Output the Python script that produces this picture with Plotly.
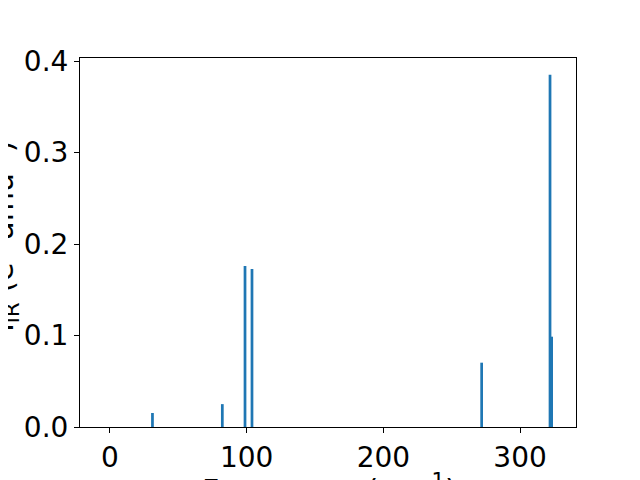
import plotly.graph_objects as go

freqs = [31.1, 82.2, 98.8, 103.9, 271.9, 321.9, 323.1]
intensities = [0.0153, 0.025, 0.176, 0.1727, 0.0703, 0.385, 0.0987]
bar_width = 2.0

# page body adds an 8px offset; compensate in margins
OFF = 8
W, H = 640, 480
L, R, T, B = 80 - OFF, 72, 58 - OFF, 61
pw, ph = W - L - R, H - T - B

fig = go.Figure(go.Bar(x=freqs, y=intensities, width=bar_width,
                       marker=dict(color="#1f77b4", line=dict(width=0))))

tickfont = dict(family="DejaVu Sans", size=28, color="black")
labelfont = dict(family="DejaVu Sans", size=30, color="black")
fig.update_layout(
    width=W, height=H, margin=dict(l=L, r=R, t=T, b=B, autoexpand=False),
    plot_bgcolor="white", paper_bgcolor="white", showlegend=False,
    font=tickfont,
    xaxis=dict(range=[-21.9, 340.9], tickvals=[0, 100, 200, 300], showgrid=False,
               zeroline=False, showline=True, linecolor="black", linewidth=1, mirror=True,
               ticks="outside", ticklen=5, tickcolor="black", tickfont=tickfont, automargin=False),
    yaxis=dict(range=[0, 0.4033], tickvals=[0, 0.1, 0.2, 0.3, 0.4], tickformat=".1f",
               showgrid=False, zeroline=False, showline=True, linecolor="black", linewidth=1,
               mirror=True, ticks="outside", ticklen=5, tickcolor="black", tickfont=tickfont,
               automargin=False),
)

# x title centred under the plot, partly below the page edge
fig.add_annotation(text="Frequency (cm<sup>-1</sup>)", xref="paper", yref="paper",
                   x=(329 - 80) / pw, y=(427 - 467) / ph, xanchor="center", yanchor="top",
                   showarrow=False, font=labelfont)
fig.add_annotation(text="I<sub>IR</sub> (e<sup>2</sup> amu<sup>-1</sup>)", xref="paper", yref="paper",
                   x=(3 - 80) / pw, y=(427 - 236) / ph, xanchor="center", yanchor="middle",
                   textangle=-90, showarrow=False, font=labelfont)

fig.write_html("out.html")
